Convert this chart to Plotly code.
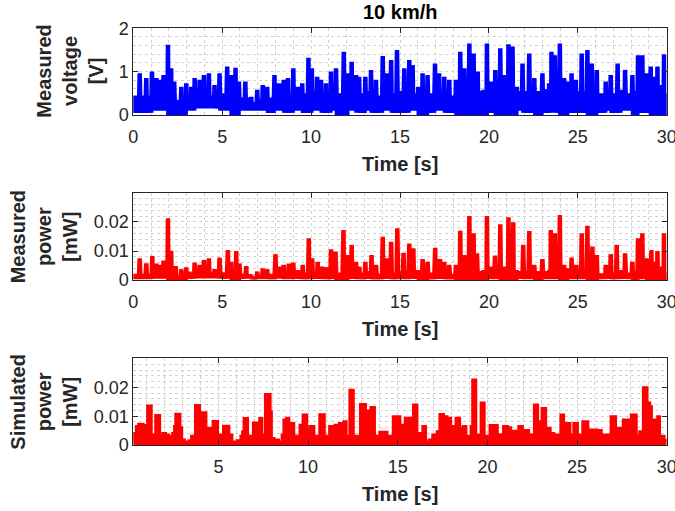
import plotly.graph_objects as go

# ---------------- measured voltage: spike peaks (s, V) ----------------
volt_t = [0.0, 0.36, 0.73, 1.05, 1.3, 1.48, 1.7, 1.95, 2.13, 2.3,
          2.7, 2.98, 3.26, 3.45, 3.73, 3.97, 4.25, 4.57, 4.85, 5.28,
          5.5, 5.75, 5.94, 6.3, 6.63, 6.97, 7.28, 7.53, 7.94, 8.2,
          8.46, 8.7, 9.0, 9.25, 9.5, 9.85, 10.04, 10.34, 10.56, 10.84,
          11.12, 11.4, 11.84, 12.06, 12.28, 12.53, 12.7, 13.05, 13.37, 13.65,
          14.03, 14.27, 14.5, 14.83, 15.24, 15.52, 15.71, 16.03, 16.27, 16.55,
          16.97, 17.2, 17.49, 17.77, 18.15, 18.39, 18.62, 18.9, 19.14, 19.37,
          19.7, 19.89, 20.11, 20.36, 20.64, 20.9, 21.1, 21.33, 21.57, 21.89,
          22.27, 22.55, 23.01, 23.39, 23.52, 23.71, 23.99, 24.23, 24.42, 24.65,
          24.89, 25.22, 25.54, 25.79, 26.07, 26.33, 26.57, 26.85, 27.24, 27.42,
          27.66, 28.07, 28.39, 28.63, 28.87, 29.1, 29.29, 29.48, 29.67, 29.85,
          30.0]
volt_v = [0.45, 0.96, 0.85, 1.0, 0.85, 0.81, 0.92, 1.62, 1.08, 0.77,
          0.65, 0.73, 0.65, 0.85, 0.81, 0.92, 0.96, 0.69, 0.96, 1.12,
          0.92, 1.09, 0.77, 0.77, 0.42, 0.58, 0.69, 0.65, 0.92, 0.73,
          0.81, 0.85, 1.08, 0.65, 0.73, 1.32, 1.08, 0.88, 0.81, 0.73,
          1.0, 1.08, 1.46, 0.96, 1.23, 0.92, 0.88, 0.88, 1.04, 0.81,
          1.36, 0.96, 1.27, 1.5, 1.08, 1.27, 1.15, 0.65, 0.96, 0.92,
          1.19, 0.96, 0.88, 0.81, 0.81, 1.46, 1.08, 1.65, 1.42, 1.0,
          0.58, 1.65, 0.77, 1.04, 1.54, 0.92, 1.63, 1.58, 0.65, 1.19,
          1.42, 0.85, 0.96, 0.73, 1.46, 1.38, 1.65, 0.85, 0.77, 0.96,
          0.81, 1.42, 1.5, 1.19, 1.04, 0.5, 0.77, 0.92, 1.19, 0.58,
          1.04, 0.92, 1.38, 1.38, 0.96, 1.12, 0.88, 1.12, 0.69, 1.4,
          0.42]
# dense oscillation band between spikes, per 0.5 s bin (upper edge / lower edge)
volt_band = [0.45, 0.45, 0.5, 0.45, 0.4, 0.35, 0.4, 0.45, 0.45, 0.4,
             0.5, 0.5, 0.4, 0.3, 0.35, 0.4, 0.5, 0.5, 0.45, 0.5,
             0.55, 0.45, 0.55, 0.5, 0.55, 0.5, 0.55, 0.45, 0.55, 0.5,
             0.55, 0.5, 0.45, 0.5, 0.5, 0.45, 0.4, 0.5, 0.5, 0.55,
             0.6, 0.55, 0.5, 0.55, 0.55, 0.55, 0.6, 0.55, 0.55, 0.55,
             0.55, 0.5, 0.45, 0.55, 0.5, 0.5, 0.55, 0.6, 0.55, 0.5,
             0.5]
volt_low = [0.05, 0.05, 0.1, 0.1, 0.0, 0.0, 0.1, 0.15, 0.15, 0.15,
            0.1, 0.0, 0.1, 0.1, 0.1, 0.05, 0.1, 0.05, 0.1, 0.05,
            0.1, 0.05, 0.1, 0.0, 0.1, 0.05, 0.1, 0.05, 0.1, 0.05,
            0.05, 0.1, 0.0, 0.05, 0.1, 0.05, 0.0, 0.0, 0.0, 0.0,
            0.05, 0.0, 0.0, 0.1, 0.05, 0.0, 0.05, 0.05, 0.0, 0.05,
            0.05, 0.0, 0.05, 0.1, 0.05, 0.1, 0.0, 0.05, 0.0, 0.0,
            0.0]

# ---------------- measured power: spike peaks (s, mW) ----------------
power_t = [0.0, 0.36, 0.73, 1.07, 1.3, 1.48, 1.7, 1.95, 2.13, 2.38,
           2.7, 2.98, 3.16, 3.45, 3.73, 3.97, 4.25, 4.57, 4.85, 5.32,
           5.5, 5.79, 5.97, 6.35, 6.63, 6.97, 7.28, 7.53, 8.0, 8.22,
           8.46, 8.75, 9.0, 9.25, 9.53, 9.87, 10.06, 10.37, 10.62, 10.84,
           11.12, 11.37, 11.82, 12.06, 12.28, 12.53, 12.71, 13.05, 13.4, 13.65,
           14.03, 14.27, 14.5, 14.85, 15.2, 15.52, 15.75, 16.03, 16.27, 16.55,
           16.98, 17.25, 17.49, 17.77, 18.15, 18.39, 18.62, 18.9, 19.14, 19.33,
           19.7, 19.89, 20.11, 20.34, 20.64, 20.9, 21.1, 21.37, 21.57, 21.93,
           22.27, 22.55, 23.01, 23.39, 23.48, 23.71, 23.99, 24.23, 24.42, 24.65,
           24.92, 25.22, 25.54, 25.82, 26.07, 26.33, 26.57, 26.85, 27.19, 27.42,
           27.66, 28.07, 28.39, 28.63, 28.87, 29.14, 29.29, 29.48, 29.67, 29.85,
           30.0]
power_v = [0.0017, 0.0075, 0.0057, 0.0083, 0.0057, 0.0052, 0.0067, 0.0213, 0.0101, 0.0048,
           0.0037, 0.0044, 0.0029, 0.0060, 0.0052, 0.0069, 0.0075, 0.0037, 0.0077, 0.0103,
           0.0063, 0.0100, 0.0057, 0.0048, 0.0014, 0.0029, 0.0040, 0.0037, 0.0089, 0.0046,
           0.0052, 0.0057, 0.0060, 0.0034, 0.0052, 0.0144, 0.0075, 0.0063, 0.0046, 0.0044,
           0.0106, 0.0098, 0.0172, 0.0086, 0.0121, 0.0063, 0.0046, 0.0063, 0.0086, 0.0052,
           0.0149, 0.0075, 0.0132, 0.0178, 0.0094, 0.0126, 0.0109, 0.0034, 0.0072, 0.0063,
           0.0111, 0.0072, 0.0063, 0.0052, 0.0052, 0.0170, 0.0086, 0.0221, 0.0161, 0.0092,
           0.0034, 0.0221, 0.0046, 0.0084, 0.0192, 0.0046, 0.0216, 0.0199, 0.0034, 0.0121,
           0.0169, 0.0052, 0.0072, 0.0034, 0.0172, 0.0161, 0.0224, 0.0052, 0.0040, 0.0077,
           0.0052, 0.0161, 0.0187, 0.0115, 0.0086, 0.0023, 0.0052, 0.0089, 0.0121, 0.0034,
           0.0092, 0.0063, 0.0144, 0.0161, 0.0075, 0.0103, 0.0063, 0.0100, 0.0046, 0.0161,
           0.0017]
power_band = [0.002, 0.002, 0.0025, 0.002, 0.0015, 0.0015, 0.002, 0.0025, 0.0025, 0.002,
              0.0025, 0.002, 0.002, 0.001, 0.0015, 0.002, 0.0025, 0.0025, 0.002, 0.0025,
              0.003, 0.002, 0.003, 0.0025, 0.003, 0.0025, 0.003, 0.002, 0.003, 0.0025,
              0.003, 0.0025, 0.002, 0.0025, 0.0025, 0.002, 0.0015, 0.0025, 0.0025, 0.003,
              0.003, 0.003, 0.0025, 0.003, 0.003, 0.003, 0.003, 0.003, 0.0025, 0.003,
              0.003, 0.0025, 0.002, 0.003, 0.0025, 0.0025, 0.003, 0.003, 0.003, 0.0025,
              0.0025]
power_low = [0.0004, 0.0004, 0.0005, 0.0005, 0.0, 0.0, 0.0005, 0.0006, 0.0006, 0.0006,
             0.0005, 0.0, 0.0005, 0.0004, 0.0004, 0.0003, 0.0005, 0.0003, 0.0004, 0.0003,
             0.0004, 0.0003, 0.0004, 0.0, 0.0004, 0.0003, 0.0004, 0.0003, 0.0004, 0.0003,
             0.0003, 0.0004, 0.0, 0.0003, 0.0004, 0.0003, 0.0, 0.0, 0.0, 0.0,
             0.0003, 0.0, 0.0, 0.0004, 0.0003, 0.0, 0.0003, 0.0003, 0.0, 0.0003,
             0.0003, 0.0, 0.0003, 0.0004, 0.0003, 0.0004, 0.0, 0.0003, 0.0, 0.0,
             0.0]

# ---------------- simulated power: upper envelope, held until next time (s, mW) ----------------
sim_t = [0.25, 0.30, 0.42, 0.55, 0.80, 0.88, 1.05, 1.25, 1.5, 1.72,
         1.90, 2.05, 2.2, 2.45, 2.55, 2.62, 2.85, 2.95, 3.1, 3.35,
         3.5, 3.72, 3.95, 4.05, 4.3, 4.6, 4.7, 4.95, 5.1, 5.28,
         5.58, 5.75, 6.05, 6.25, 6.35, 6.43, 6.62, 6.95, 7.3, 7.42,
         7.62, 7.88, 7.95, 8.1, 8.35, 8.55, 8.65, 8.8, 8.92, 9.05,
         9.2, 9.55, 9.72, 9.92, 10.1, 10.32, 10.65, 10.9, 11.2, 11.38,
         11.5, 11.6, 11.75, 11.88, 12.0, 12.12, 12.33, 12.52, 12.92, 13.2,
         13.5, 13.7, 14.0, 14.4, 14.6, 14.75, 15.12, 15.25, 15.42, 15.88,
         16.07, 16.4, 16.55, 16.75, 16.95, 17.2, 17.35, 17.55, 17.75, 17.95,
         18.1, 18.25, 18.45, 18.65, 18.8, 19.1, 19.18, 19.35, 19.65, 19.82,
         20.15, 20.55, 20.9, 21.12, 21.3, 21.75, 21.95, 22.3, 22.62, 22.8,
         23.05, 23.25, 23.5, 23.7, 24.1, 24.25, 24.38, 24.6, 24.82, 25.02,
         25.32, 25.6, 25.75, 26.1, 26.35, 26.75, 26.9, 27.15, 27.3, 27.45,
         27.58, 27.92, 28.03, 28.3, 28.5, 28.6, 28.7, 28.9, 29.05, 29.15,
         29.35, 29.5, 29.6, 29.85, 30.0]
sim_p = [0.0012, 0.0040, 0.0064, 0.0072, 0.0068, 0.0035, 0.0135, 0.0035, 0.0102, 0.0030,
         0.0040, 0.0035, 0.0030, 0.0040, 0.0064, 0.0107, 0.0060, 0.0017, 0.0010, 0.0014,
         0.0030, 0.0137, 0.0040, 0.0112, 0.0058, 0.0045, 0.0082, 0.0035, 0.0030, 0.0065,
         0.0035, 0.0010, 0.0015, 0.0030, 0.0046, 0.0092, 0.0030, 0.0076, 0.0092, 0.0035,
         0.0175, 0.0115, 0.0023, 0.0017, 0.0010, 0.0035, 0.0087, 0.0093, 0.0069, 0.0075,
         0.0030, 0.0069, 0.0104, 0.0052, 0.0064, 0.0030, 0.0105, 0.0030, 0.0064, 0.0040,
         0.0069, 0.0035, 0.0075, 0.0040, 0.0081, 0.0030, 0.0190, 0.0030, 0.0141, 0.0118,
         0.0130, 0.0030, 0.0044, 0.0030, 0.0015, 0.0098, 0.0029, 0.0069, 0.0093, 0.0139,
         0.0040, 0.0064, 0.0010, 0.0017, 0.0035, 0.0046, 0.0106, 0.0098, 0.0093, 0.0064,
         0.0035, 0.0093, 0.0058, 0.0064, 0.0030, 0.0064, 0.0226, 0.0035, 0.0146, 0.0030,
         0.0068, 0.0035, 0.0064, 0.0060, 0.0048, 0.0064, 0.0050, 0.0035, 0.0139, 0.0081,
         0.0127, 0.0058, 0.0040, 0.0035, 0.0104, 0.0035, 0.0075, 0.0035, 0.0075, 0.0035,
         0.0081, 0.0030, 0.0052, 0.0050, 0.0035, 0.0008, 0.0098, 0.0035, 0.0058, 0.0040,
         0.0087, 0.0030, 0.0104, 0.0030, 0.0046, 0.0030, 0.0199, 0.0146, 0.0133, 0.0087,
         0.0035, 0.0098, 0.0030, 0.0017, 0.0017]

time_ticks = [0, 5, 10, 15, 20, 25, 30]
volt_ticks = [0, 1, 2]
power_ticks = [0, 0.01, 0.02]

BIN = 0.5  # width of the band bins in seconds
ZIG = 3    # low/band swings drawn in each gap between spikes


def spike_series(t_pk, v_pk, band, low):
    """Spike at each peak, then rapid low/band swings until the next spike."""
    xs, ys = [], []
    n_sub = 2 * ZIG + 1
    for i in range(len(t_pk) - 1):
        t0, t1 = t_pk[i], t_pk[i + 1]
        k = min(int((t0 + t1) / 2 / BIN), len(band) - 1)
        d = (t1 - t0) / (n_sub + 1)
        xs.append(t0)
        ys.append(v_pk[i])
        for j in range(n_sub):
            xs.append(t0 + (j + 1) * d)
            ys.append(low[k] if j % 2 == 0 else band[k])
    xs.append(t_pk[-1])
    ys.append(v_pk[-1])
    return xs, ys


W, H = 675, 511
X0, X1 = 133.3, 666.7
PANELS = [(28.3, 115.0), (192.7, 280.0), (358.3, 445.0)]  # top/bottom pixel rows

FONT = "Arial, Liberation Sans, sans-serif"
INK = "#262626"
GRID = "#d2d2d2"

fig = go.Figure()

vx, vy = spike_series(volt_t, volt_v, volt_band, volt_low)
fig.add_trace(go.Scatter(x=vx, y=vy, mode="lines", xaxis="x", yaxis="y",
                         line=dict(color="#0000ff", width=4.5, simplify=False),
                         hoverinfo="skip"))

px_, py_ = spike_series(power_t, power_v, power_band, power_low)
fig.add_trace(go.Scatter(x=px_, y=py_, mode="lines", xaxis="x2", yaxis="y2",
                         line=dict(color="#ff0000", width=4.5, simplify=False),
                         hoverinfo="skip"))

fig.add_trace(go.Scatter(x=sim_t, y=sim_p, mode="lines", xaxis="x3", yaxis="y3",
                         line=dict(color="#ff0000", width=3, shape="hv"),
                         fill="tozeroy", fillcolor="#ff0000", hoverinfo="skip"))


def xaxis(anchor, xmin, dom):
    vals = [v for v in time_ticks if v >= xmin]
    return dict(domain=dom, anchor=anchor, range=[xmin, 30.0001],
                tickmode="array", tickvals=vals, ticktext=[str(v) for v in vals],
                automargin=False, ticklabeloverflow="allow", ticklabelstandoff=5,
                showline=True, mirror="ticks", linecolor=INK, linewidth=1,
                ticks="inside", ticklen=5, tickcolor=INK, tickwidth=1,
                showgrid=True, gridcolor=GRID, griddash="dot", gridwidth=1,
                minor=dict(tickmode="linear", tick0=0, dtick=1, showgrid=True,
                           gridcolor=GRID, griddash="dot", gridwidth=1),
                zeroline=False, tickfont=dict(family=FONT, size=18, color=INK))


def yaxis(anchor, top, dom, vals, texts, minor_step):
    return dict(domain=dom, anchor=anchor, range=[0, top],
                tickmode="array", tickvals=vals, ticktext=texts,
                automargin=False, ticklabeloverflow="allow",
                showline=True, mirror="ticks", linecolor=INK, linewidth=1,
                ticks="inside", ticklen=5, tickcolor=INK, tickwidth=1,
                showgrid=True, gridcolor=GRID, griddash="dot", gridwidth=1,
                minor=dict(tickmode="linear", tick0=0, dtick=minor_step, showgrid=True,
                           gridcolor=GRID, griddash="dot", gridwidth=1),
                zeroline=False, tickfont=dict(family=FONT, size=18, color=INK))


xdom = [X0 / W, X1 / W]
ydoms = [[1 - b / H, 1 - t / H] for t, b in PANELS]

fig.update_layout(
    width=W, height=H,
    margin=dict(l=0, r=0, t=0, b=0, pad=0, autoexpand=False),
    paper_bgcolor="white", plot_bgcolor="white",
    showlegend=False,
    xaxis=xaxis("y", 0, xdom),
    yaxis=yaxis("x", 2.0001, ydoms[0], volt_ticks, ["0", "1", "2"], 0.2),
    xaxis2=xaxis("y2", 0, xdom),
    yaxis2=yaxis("x2", 0.0301, ydoms[1], power_ticks, ["0", "0.01", "0.02"], 0.002),
    xaxis3=xaxis("y3", 0.25, xdom),
    yaxis3=yaxis("x3", 0.0301, ydoms[2], power_ticks, ["0", "0.01", "0.02"], 0.002),
)

label_font = dict(family=FONT, size=20, color=INK)
ann = []
ann.append(dict(text="<b>10 km/h</b>", x=400 / W, y=1 - 12 / H, xref="paper", yref="paper",
                xanchor="center", yanchor="middle", showarrow=False,
                font=dict(family=FONT, size=20, color="#000000")))
for (t, b) in PANELS:
    ann.append(dict(text="<b>Time [s]</b>", x=400 / W, y=1 - (b + 49) / H,
                    xref="paper", yref="paper", xanchor="center", yanchor="middle",
                    showarrow=False, font=label_font))
ylabels = [("<b>Measured<br>voltage<br>[V]</b>", 70),
           ("<b>Measured<br>power<br>[mW]</b>", 44),
           ("<b>Simulated<br>power<br>[mW]</b>", 44)]
for (txt, cx), (t, b) in zip(ylabels, PANELS):
    ann.append(dict(text=txt, x=cx / W, y=1 - (t + b) / 2 / H, xref="paper", yref="paper",
                    xanchor="center", yanchor="middle", textangle=-90,
                    showarrow=False, font=label_font))
fig.update_layout(annotations=ann)

fig.write_html("out.html")
